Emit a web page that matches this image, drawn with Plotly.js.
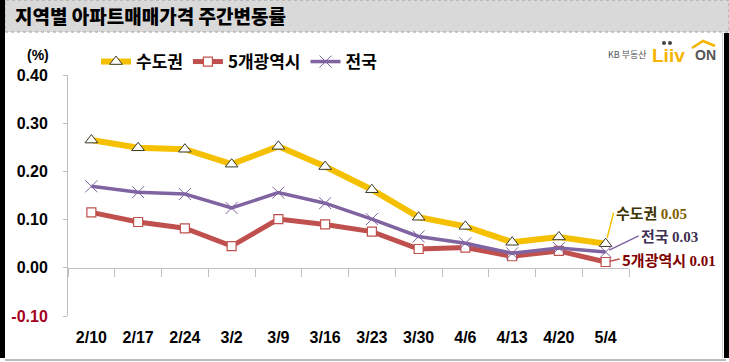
<!DOCTYPE html>
<html>
<head>
<meta charset="utf-8">
<script src="https://cdn.plot.ly/plotly-3.0.1.min.js"></script>
<style>html,body{margin:0;padding:0;background:#fff;}#chart{width:729px;height:362px;}</style>
</head>
<body>
<div id="chart"></div>
<script>
// ---- data ----
const weeks = ['2/10','2/17','2/24','3/2','3/9','3/16','3/23','3/30','4/6','4/13','4/20','5/4'];
const seoulMetro = [0.265,0.249,0.246,0.215,0.252,0.210,0.162,0.105,0.086,0.053,0.064,0.050];
const fiveCities = [0.115,0.095,0.082,0.045,0.101,0.090,0.075,0.039,0.042,0.024,0.035,0.012];
const nationwide = [0.169,0.157,0.153,0.124,0.156,0.134,0.101,0.065,0.051,0.030,0.041,0.033];
const seriesNames = ['수도권','5개광역시','전국'];
const yTickVals = [-0.1,0,0.1,0.2,0.3,0.4];
const yTickText = ['<span style="color:#a50021">-0.10</span>','0.00','0.10','0.20','0.30','0.40'];
const titleText = '지역별 아파트매매가격 주간변동률';

// ---- layout helpers (plot area in pixels) ----
const W = 729, H = 362, L = 68, R = 629, T = 75, B = 316;
const px = x => (x - L) / (R - L);
const py = y => (B - y) / (B - T);

const KR = '"Noto Sans CJK KR", "Noto Sans", sans-serif';
const NUM = '"Liberation Sans", Arial, sans-serif';

const traces = [
  {x: weeks, y: seoulMetro, name: seriesNames[0], type: 'scatter', mode: 'lines+markers',
   line: {color: '#f5c000', width: 6},
   marker: {symbol: 'triangle-up', size: 11, color: '#ffffff', line: {color: '#3a3a2a', width: 1}}},
  {x: weeks, y: fiveCities, name: seriesNames[1], type: 'scatter', mode: 'lines+markers',
   line: {color: '#c0504d', width: 5},
   marker: {symbol: 'square', size: 9, color: '#ffffff', line: {color: '#c0504d', width: 1.2}}},
  {x: weeks, y: nationwide, name: seriesNames[2], type: 'scatter', mode: 'lines+markers',
   line: {color: '#8064a2', width: 3.5},
   marker: {symbol: 'x-thin-open', size: 12, color: '#8064a2', line: {color: '#8064a2', width: 1}}}
];

const last = weeks.length - 1;
const annotations = [
  {xref: 'paper', yref: 'paper', x: px(38), y: py(55), xanchor: 'center', yanchor: 'middle', text: '(%)', showarrow: false,
   font: {family: NUM, size: 14, color: '#000', weight: 'bold'}},
  {x: weeks[last], y: seoulMetro[last], xref: 'x', yref: 'y', xanchor: 'left', yanchor: 'middle',
   text: seriesNames[0] + ' <span style="font-family:Liberation Serif;color:#7f6000">' + seoulMetro[last].toFixed(2) + '</span>',
   showarrow: true, arrowhead: 0, arrowwidth: 1.5, arrowcolor: '#f5c000', ax: 8, ay: -31, standoff: 6,
   font: {family: KR, size: 15, color: '#3d3300', weight: 'bold'}},
  {x: weeks[last], y: nationwide[last], xref: 'x', yref: 'y', xanchor: 'left', yanchor: 'middle',
   text: seriesNames[2] + ' <span style="font-family:Liberation Serif">' + nationwide[last].toFixed(2) + '</span>',
   showarrow: true, arrowhead: 0, arrowwidth: 1.5, arrowcolor: '#8064a2', ax: 33, ay: -16, standoff: 4,
   font: {family: KR, size: 15, color: '#3f3151', weight: 'bold'}},
  {x: weeks[last], y: fiveCities[last], xref: 'x', yref: 'y', xanchor: 'left', yanchor: 'middle',
   text: seriesNames[1] + ' <span style="font-family:Liberation Serif">' + fiveCities[last].toFixed(2) + '</span>',
   showarrow: true, arrowhead: 0, arrowwidth: 1.5, arrowcolor: '#c0504d', ax: 14, ay: -3, standoff: 4,
   font: {family: KR, size: 15, color: '#7f0000', weight: 'bold'}},
  // logo
  {xref: 'paper', yref: 'paper', x: px(606), y: py(54), xanchor: 'left', yanchor: 'middle', showarrow: false,
   text: 'KB 부동산', font: {family: KR, size: 9, color: '#555555'}},
  {xref: 'paper', yref: 'paper', x: px(650), y: py(55), xanchor: 'left', yanchor: 'middle', showarrow: false,
   text: 'Liiv', font: {family: NUM, size: 19, color: '#f5b400', weight: 'bold'}},
  {xref: 'paper', yref: 'paper', x: px(693), y: py(55), xanchor: 'left', yanchor: 'middle', showarrow: false,
   text: 'ON', font: {family: NUM, size: 14, color: '#555555', weight: 'bold'}}
];

const shapes = [
  // title bar
  {type: 'rect', xref: 'paper', yref: 'paper', x0: px(5), x1: px(729), y0: py(32), y1: py(0),
   fillcolor: '#d9d9d9', line: {color: '#9a9a9a', width: 1, dash: 'dot'}, layer: 'below'},
  // left black border
  {type: 'rect', xref: 'paper', yref: 'paper', x0: px(0), x1: px(5), y0: py(358), y1: py(0),
   fillcolor: '#000', line: {width: 0}, layer: 'below'},
  // right black border
  {type: 'rect', xref: 'paper', yref: 'paper', x0: px(724), x1: px(729), y0: py(358), y1: py(33),
   fillcolor: '#000', line: {width: 0}, layer: 'below'},
  // right thin gray
  {type: 'line', xref: 'paper', yref: 'paper', x0: px(722.5), x1: px(722.5), y0: py(358), y1: py(33),
   line: {color: '#d0d0d0', width: 1}, layer: 'below'},
  // bottom gray line
  {type: 'line', xref: 'paper', yref: 'paper', x0: px(5), x1: px(726), y0: py(360), y1: py(360),
   line: {color: '#bdbdbd', width: 2}, layer: 'below'},
  // logo roof
  {type: 'path', xref: 'paper', yref: 'paper',
   path: 'M ' + px(692) + ' ' + py(48) + ' L ' + px(703) + ' ' + py(41) + ' L ' + px(715) + ' ' + py(46),
   line: {color: '#f5b400', width: 2.5}},
  {type: 'circle', xref: 'paper', yref: 'paper', x0: px(662), x1: px(666), y0: py(45), y1: py(41),
   fillcolor: '#444', line: {width: 0}},
  {type: 'circle', xref: 'paper', yref: 'paper', x0: px(668), x1: px(672), y0: py(45), y1: py(41),
   fillcolor: '#444', line: {width: 0}}
];

const layout = {
  width: W, height: H,
  margin: {l: L, r: W - R, t: T, b: H - B},
  paper_bgcolor: '#ffffff', plot_bgcolor: '#ffffff',
  showlegend: true,
  title: {text: titleText, xref: 'container', yref: 'container', x: 15 / W, xanchor: 'left',
          y: 1 - 17 / H, yanchor: 'middle',
          font: {family: KR, size: 19, color: '#000', weight: 900}},
  legend: {orientation: 'h', xref: 'paper', yref: 'paper', x: px(96), xanchor: 'left', y: py(62), yanchor: 'middle',
           font: {family: KR, size: 17, color: '#000', weight: 'bold'}, itemwidth: 30, bgcolor: 'rgba(0,0,0,0)',
           tracegroupgap: 0},
  xaxis: {type: 'category', anchor: 'free', position: 0.2, showline: true, linecolor: '#bfbfbf', linewidth: 1,
          ticks: 'outside', tickson: 'boundaries', ticklen: 8, tickcolor: '#bfbfbf', showgrid: false, zeroline: false,
          ticklabelstandoff: 55, tickfont: {family: NUM, size: 16, color: '#000', weight: 'bold'},
          range: [-0.5, weeks.length - 0.5], fixedrange: true},
  yaxis: {range: [-0.1, 0.4], tickvals: yTickVals, ticktext: yTickText, showline: true, linecolor: '#bfbfbf',
          linewidth: 1, ticks: 'outside', ticklen: 4, tickcolor: '#bfbfbf', showgrid: false, zeroline: false,
          ticklabelstandoff: 12, tickfont: {family: NUM, size: 16, color: '#000', weight: 'bold'}, fixedrange: true},
  annotations: annotations,
  shapes: shapes
};

Plotly.newPlot('chart', traces, layout, {displayModeBar: false, staticPlot: true});
</script>
</body>
</html>
